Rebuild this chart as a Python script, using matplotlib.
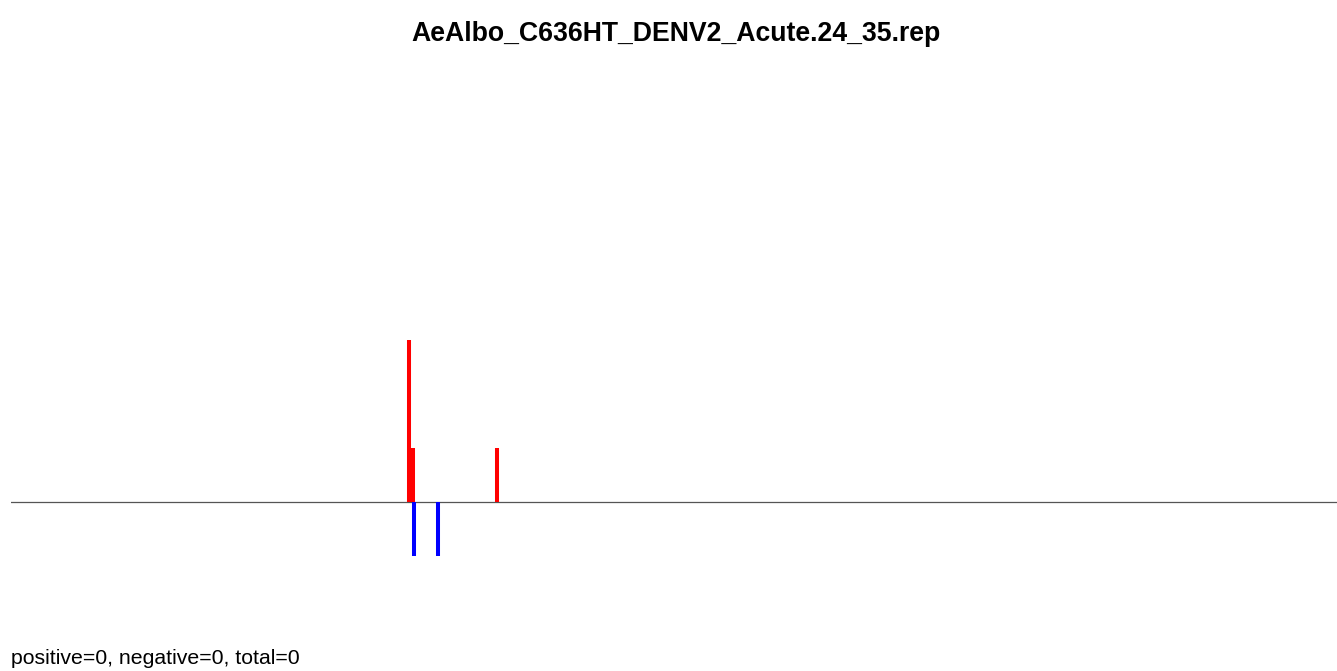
import matplotlib
matplotlib.use("Agg")
import matplotlib.pyplot as plt

# read counts per position (positive strand up, negative strand down)
title = "AeAlbo_C636HT_DENV2_Acute.24_35.rep"
footer = "positive=0, negative=0, total=0"
pos_x = [100, 101, 122]
pos_n = [3, 1, 1]
neg_x = [101.25, 107.25]
neg_n = [1, 1]

plt.rcParams['font.family'] = ['Liberation Sans', 'DejaVu Sans']

W, H = 1337, 671
fig = plt.figure(figsize=(W / 100, H / 100), dpi=100)
left = 11 / W
ax = fig.add_axes([left, 0, 1 - left, 1])
# 4 px per position, 54 px per read, zero line at y=502 px
ax.set_xlim(0.625, 0.625 + (W - 11) / 4)
ax.set_ylim(-(H - 502) / 54, 502 / 54)
ax.axis('off')

ax.axhline(0, color='#555555', lw=0.9, zorder=1)
ax.vlines(pos_x, 0, pos_n, colors='red', lw=2.9, zorder=2)
ax.vlines(neg_x, 0, [-n for n in neg_n], colors='blue', lw=2.9, zorder=2)

fig.text(676 / W, 1 - 34 / H, title, ha='center', va='center',
         fontsize=19.2, fontweight='bold')
fig.text(11 / W, 1 - 658 / H, footer, ha='left', va='center', fontsize=15.3)

fig.savefig("out.png", dpi=100)
